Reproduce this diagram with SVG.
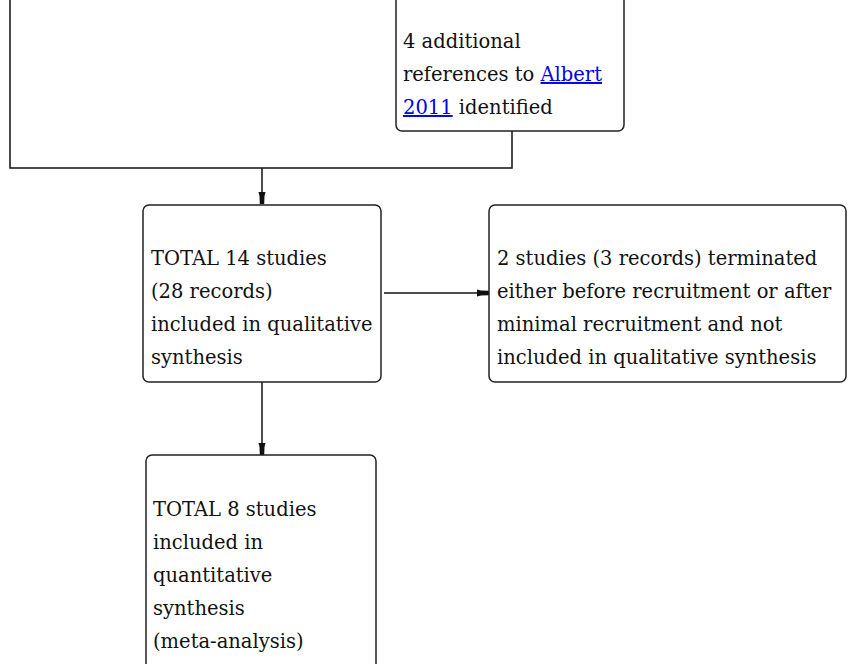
<svg xmlns="http://www.w3.org/2000/svg" width="849" height="664" viewBox="0 0 849 664">
<style>
.box{fill:#fff;stroke:#222;stroke-width:1.5}
.t{font-family:"DejaVu Serif",serif;font-size:19.5px;fill:#111}
.lnk{fill:#0000ee;text-decoration:underline}
.c{fill:none;stroke:#111;stroke-width:1.5}
</style>
<defs>
<marker id="ah" viewBox="0 0 12 8" refX="12" refY="4" markerWidth="12" markerHeight="8" markerUnits="userSpaceOnUse" orient="auto">
<path d="M0,0.5 L4,1.5 L12,1.8 L12,6.2 L4,6.5 L0,7.5 Z" fill="#111"/>
</marker>
</defs>
<g id="connectors">
<path class="c" d="M10,0 V168 H512 V131"/>
<path class="c" d="M262,168 V204" marker-end="url(#ah)"/>
<path class="c" d="M384,293 H489" marker-end="url(#ah)"/>
<path class="c" d="M262,382 V455" marker-end="url(#ah)"/>
</g>
<g id="node-albert">
<rect class="box" x="396" y="-20" width="228" height="151" rx="6"/>
<text class="t" x="403" y="48">4 additional</text>
<text class="t" x="403" y="81">references to <tspan class="lnk">Albert</tspan></text>
<text class="t" x="403" y="114"><tspan class="lnk">2011</tspan> identified</text>
</g>
<g id="node-total14">
<rect class="box" x="143" y="205" width="238" height="177" rx="6"/>
<text class="t" x="151" y="265">TOTAL 14 studies</text>
<text class="t" x="151" y="298">(28 records)</text>
<text class="t" x="151" y="331">included in qualitative</text>
<text class="t" x="151" y="364">synthesis</text>
</g>
<g id="node-terminated">
<rect class="box" x="489" y="205" width="357" height="177" rx="6"/>
<text class="t" x="497" y="265">2 studies (3 records) terminated</text>
<text class="t" x="497" y="298">either before recruitment or after</text>
<text class="t" x="497" y="331">minimal recruitment and not</text>
<text class="t" x="497" y="364">included in qualitative synthesis</text>
</g>
<g id="node-total8">
<rect class="box" x="146" y="455" width="230" height="240" rx="6"/>
<text class="t" x="153" y="516">TOTAL 8 studies</text>
<text class="t" x="153" y="549">included in</text>
<text class="t" x="153" y="582">quantitative</text>
<text class="t" x="153" y="615">synthesis</text>
<text class="t" x="153" y="648">(meta-analysis)</text>
</g>
</svg>
